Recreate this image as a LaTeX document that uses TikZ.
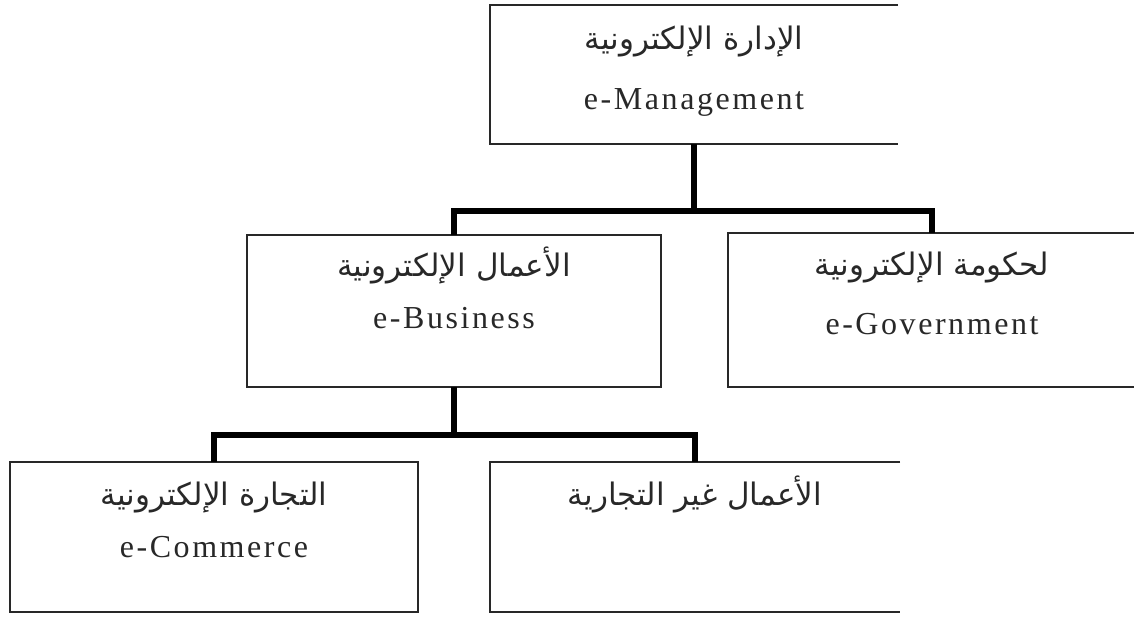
\documentclass[tikz,border=0pt]{standalone}
\usepackage{fontspec}
\setmainfont{Liberation Serif}
\newfontfamily\enfont[LetterSpace=8]{Liberation Serif}
\newfontfamily\arabicfont[Script=Arabic]{DejaVu Sans}
\TeXXeTstate=1
\usetikzlibrary{calc}

\definecolor{inkgray}{RGB}{40,40,40}

\tikzset{
  box/.style={rectangle, inner sep=0pt, outer sep=0pt},
  frame/.style={draw=inkgray, line width=2pt, line join=miter},
  conn/.style={draw=black, line width=6pt, line join=miter},
  artext/.style={anchor=base, inner sep=0pt, text=inkgray,
                 font=\arabicfont\fontsize{31}{36}\selectfont},
  entext/.style={anchor=base, inner sep=0pt, text=inkgray,
                 font=\enfont\fontsize{32}{36}\selectfont},
}

\begin{document}
\begin{tikzpicture}[x=1pt, y=-1pt]
  \useasboundingbox (0,0) rectangle (1134,616);
  \fill[white] (0,0) rectangle (1134,616);

  % boxes
  \node[box, minimum width=408pt, minimum height=139pt] (mgmt) at (694,74.5) {};
  \node[box, minimum width=414pt, minimum height=152pt] (biz)  at (454,311) {};
  \node[box, minimum width=408pt, minimum height=154pt] (gov)  at (932,310) {};
  \node[box, minimum width=408pt, minimum height=150pt] (ecom) at (214,537) {};
  \node[box, minimum width=410pt, minimum height=150pt] (nonc) at (695,537) {};

  % outlines (the right-hand column of boxes is open on its right side)
  \draw[frame] (mgmt.north east) -- (mgmt.north west) -- (mgmt.south west) -- (mgmt.south east);
  \draw[frame] (biz.north west) rectangle (biz.south east);
  \draw[frame] (gov.north east) -- (gov.north west) -- (gov.south west) -- (gov.south east);
  \draw[frame] (ecom.north west) rectangle (ecom.south east);
  \draw[frame] (nonc.north east) -- (nonc.north west) -- (nonc.south west) -- (nonc.south east);

  % labels
  \node[artext] (mgmt-ar) at ($(mgmt.north)+(0,44)$) {\beginR الإدارة الإلكترونية\endR};
  \node[entext] (mgmt-en) at ($(mgmt.north)+(0,104)$) {e-Management};

  \node[artext] (biz-ar) at ($(biz.north)+(0,41)$) {\beginR الأعمال الإلكترونية\endR};
  \node[entext] (biz-en) at ($(biz.north)+(0,93)$) {e-Business};

  \node[artext] (gov-ar) at ($(gov.north)+(0,42)$) {\beginR لحكومة الإلكترونية\endR};
  \node[entext] (gov-en) at ($(gov.north)+(0,101)$) {e-Government};

  \node[artext] (ecom-ar) at ($(ecom.north)+(0,43)$) {\beginR التجارة الإلكترونية\endR};
  \node[entext] (ecom-en) at ($(ecom.north)+(0,95)$) {e-Commerce};

  \node[artext] (nonc-ar) at ($(nonc.north)+(0,43)$) {\beginR الأعمال غير التجارية\endR};

  % connectors
  \coordinate (j1) at ($(mgmt.south)+(0,67)$);
  \draw[conn] (mgmt.south) -- (j1);
  \draw[conn] (biz.north) |- (j1) -| (gov.north);

  \coordinate (j2) at ($(biz.south)+(0,48)$);
  \draw[conn] (biz.south) -- (j2);
  \draw[conn] (ecom.north) |- (j2) -| (nonc.north);
\end{tikzpicture}
\end{document}
